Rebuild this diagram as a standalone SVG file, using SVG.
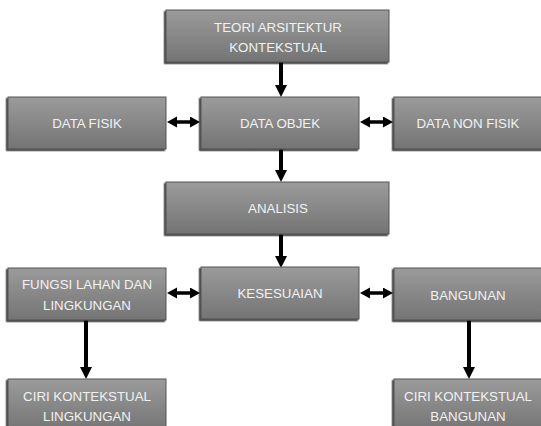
<svg xmlns="http://www.w3.org/2000/svg" width="541" height="426" viewBox="0 0 541 426">
<defs>
<linearGradient id="g" x1="0" y1="0" x2="0" y2="1">
<stop offset="0" stop-color="#9b9b9b"/>
<stop offset="1" stop-color="#747474"/>
</linearGradient>
<filter id="sh" x="-10%" y="-10%" width="120%" height="130%">
<feDropShadow dx="-1.5" dy="1.5" stdDeviation="0.7" flood-color="#000" flood-opacity="0.8"/>
</filter>
<marker id="av" markerUnits="userSpaceOnUse" markerWidth="13" markerHeight="13" refX="2" refY="6" orient="auto-start-reverse">
<path d="M0,0 L12,6 L0,12 z" fill="#000"/>
</marker>
<marker id="ah" markerUnits="userSpaceOnUse" markerWidth="11" markerHeight="12" refX="1" refY="5.5" orient="auto-start-reverse">
<path d="M0,0 L10,5.5 L0,11 z" fill="#000"/>
</marker>
</defs>
<style>
.box{fill:url(#g);stroke:#555;stroke-width:1;filter:url(#sh)}
.t{font-family:"Liberation Sans",Arial,sans-serif;font-size:13.3px;fill:#f2f2f2;text-anchor:middle}
.v{stroke:#000;stroke-width:4;fill:none;marker-end:url(#av)}
.h{stroke:#000;stroke-width:3.5;fill:none;marker-start:url(#ah);marker-end:url(#ah)}
</style>
<rect width="541" height="426" fill="#fff"/>
<g id="connectors">
<line class="v" x1="281" y1="62" x2="281" y2="87"/>
<line class="v" x1="281" y1="149" x2="281" y2="172"/>
<line class="v" x1="281" y1="234" x2="281" y2="258"/>
<line class="v" x1="86" y1="320" x2="86" y2="369"/>
<line class="v" x1="469" y1="320" x2="469" y2="369"/>
<line class="h" x1="176" y1="122" x2="191" y2="122"/>
<line class="h" x1="369" y1="122" x2="384" y2="122"/>
<line class="h" x1="176" y1="293" x2="191" y2="293"/>
<line class="h" x1="369" y1="293" x2="384" y2="293"/>
</g>
<g id="teori"><rect class="box" x="166" y="10" width="223" height="52"/><text class="t" x="278" y="31.5">TEORI ARSITEKTUR</text><text class="t" x="278" y="51.5">KONTEKSTUAL</text></g>
<g id="data-fisik"><rect class="box" x="8" y="97" width="158" height="52"/><text class="t" x="87" y="128">DATA FISIK</text></g>
<g id="data-objek"><rect class="box" x="201" y="97" width="158" height="52"/><text class="t" x="280" y="128">DATA OBJEK</text></g>
<g id="data-non-fisik"><rect class="box" x="394" y="97" width="150" height="52"/><text class="t" x="468" y="128">DATA NON FISIK</text></g>
<g id="analisis"><rect class="box" x="166" y="182" width="223" height="52"/><text class="t" x="278" y="213">ANALISIS</text></g>
<g id="fungsi"><rect class="box" x="8" y="268" width="158" height="52"/><text class="t" x="87" y="289">FUNGSI LAHAN DAN</text><text class="t" x="87" y="310">LINGKUNGAN</text></g>
<g id="kesesuaian"><rect class="box" x="201" y="267" width="158" height="52"/><text class="t" x="280" y="298">KESESUAIAN</text></g>
<g id="bangunan"><rect class="box" x="394" y="268" width="150" height="52"/><text class="t" x="468" y="300">BANGUNAN</text></g>
<g id="ciri-lingkungan"><rect class="box" x="8" y="379" width="158" height="52"/><text class="t" x="87" y="400.5">CIRI KONTEKSTUAL</text><text class="t" x="87" y="421">LINGKUNGAN</text></g>
<g id="ciri-bangunan"><rect class="box" x="394" y="379" width="150" height="52"/><text class="t" x="468" y="400.5">CIRI KONTEKSTUAL</text><text class="t" x="468" y="421">BANGUNAN</text></g>
</svg>
